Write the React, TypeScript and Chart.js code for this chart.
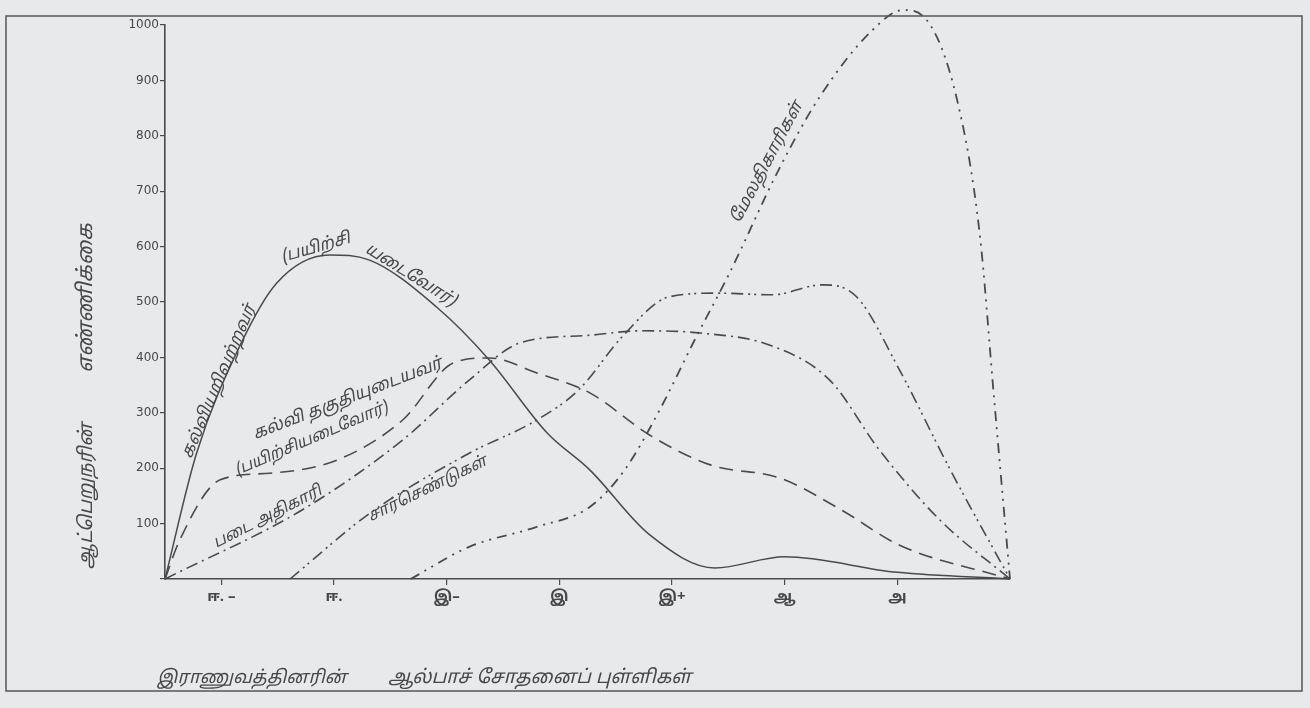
import React, { useEffect, useRef } from "react";
import { Chart, registerables } from "chart.js";

Chart.register(...registerables);

// ---- data (x in grade-units: 0 = origin, ticks at 0.5 … 6.5, end at 7.5) ----
const GRADE_LABELS = ["ஈ. –", "ஈ.", "இ–", "இ", "இ+", "ஆ", "அ"];
const GRADE_POS = [0.5, 1.5, 2.5, 3.5, 4.5, 5.5, 6.5];
const Y_TICKS = [0, 100, 200, 300, 400, 500, 600, 700, 800, 900, 1000];

const SERIES_NAMES = [
  "கல்வியறிவற்றவர் (பயிற்சியடைவோர்)",
  "கல்வி தகுதியுடையவர் (பயிற்சியடைவோர்)",
  "படை அதிகாரி",
  "சார்செண்டுகள்",
  "மேலதிகாரிகள்",
];

const ILLITERATE_X = [0, 0.28, 0.66, 0.99, 1.46, 1.81, 2.41, 2.88, 3.39, 3.77, 4.3, 4.88, 5.5, 6.5, 7.5];
const ILLITERATE_Y = [0, 227, 419, 534, 585, 576, 491, 395, 264, 197, 80, 20, 40, 12, 0];

const LITERATE_X = [0, 0.13, 0.49, 0.93, 1.53, 2.11, 2.56, 2.88, 3.3, 3.77, 4.3, 4.84, 5.46, 6.0, 6.52, 7.5];
const LITERATE_Y = [0, 70, 179, 191, 215, 287, 390, 399, 372, 336, 260, 206, 182, 125, 61, 0];

const SOLDIER_X = [0, 1.22, 2.11, 2.7, 3.15, 3.77, 4.21, 4.75, 5.37, 5.9, 6.34, 6.88, 7.5];
const SOLDIER_Y = [0, 125, 251, 359, 426, 440, 448, 444, 422, 359, 233, 106, 0];

const SERGEANT_X = [1.11, 1.82, 2.7, 3.3, 3.67, 4.07, 4.47, 4.92, 5.39, 5.83, 6.14, 6.52, 6.97, 7.5];
const SERGEANT_Y = [0, 119, 227, 287, 341, 440, 509, 516, 513, 531, 509, 377, 197, 0];

const OFFICER_X = [2.18, 2.7, 3.3, 3.77, 4.08, 4.39, 4.7, 5.01, 5.46, 5.81, 6.28, 6.55, 6.76, 7.03, 7.23, 7.36, 7.5];
const OFFICER_Y = [0, 58, 94, 130, 197, 305, 431, 552, 744, 870, 991, 1027, 1009, 865, 625, 323, 0];

const LINE_COLOR = "#4a4a4a";
const TEXT_COLOR = "#474747";
const TAMIL_FONT = "'Noto Sans Tamil', 'Noto Sans', 'Lato', sans-serif";

const zip = (xs: number[], ys: number[]) => xs.map((x, i) => ({ x, y: ys[i] }));

function drawRot(
  ctx: CanvasRenderingContext2D,
  text: string,
  cx: number,
  cy: number,
  deg: number,
  size: number
) {
  ctx.save();
  ctx.translate(cx, cy);
  ctx.rotate((deg * Math.PI) / 180);
  ctx.font = `italic ${size}px ${TAMIL_FONT}`;
  ctx.fillStyle = TEXT_COLOR;
  ctx.textAlign = "center";
  ctx.textBaseline = "middle";
  ctx.fillText(text, 0, 0);
  ctx.restore();
}

const annotations = {
  id: "annotations",
  afterDraw(chart: any) {
    const ctx: CanvasRenderingContext2D = chart.ctx;
    // frame
    ctx.save();
    ctx.strokeStyle = "#555";
    ctx.lineWidth = 1.5;
    ctx.strokeRect(6, 16, 1296, 675);
    ctx.restore();

    // curve labels
    drawRot(ctx, "கல்வியறிவற்றவர்", 220, 382, -67, 17);
    drawRot(ctx, "(பயிற்சி", 316, 249, -16, 17);
    drawRot(ctx, "யடைவோர்)", 410, 276, 32, 17);
    drawRot(ctx, "கல்வி தகுதியுடையவர்", 348, 400, -21, 17);
    drawRot(ctx, "(பயிற்சியடைவோர்)", 312, 440, -23, 16);
    drawRot(ctx, "படை அதிகாரி", 268, 518, -27, 16);
    drawRot(ctx, "சார்செண்டுகள்", 428, 490, -26, 16);
    drawRot(ctx, "மேலதிகாரிகள்", 768, 163, -62, 17);

    // axis titles
    drawRot(ctx, "இராணுவத்தினரின்", 252, 679, 0, 18);
    drawRot(ctx, "ஆல்பாச் சோதனைப் புள்ளிகள்", 540, 679, 0, 19);
    drawRot(ctx, "ஆட்பெறுநரின்", 88, 496, -90, 19);
    drawRot(ctx, "எண்ணிக்கை", 88, 298, -90, 21);
  },
};

export default function App() {
  const ref = useRef<HTMLCanvasElement | null>(null);

  useEffect(() => {
    if (!ref.current) return;
    const common = {
      borderColor: LINE_COLOR,
      borderWidth: 1.6,
      pointRadius: 0,
      fill: false,
      cubicInterpolationMode: "monotone" as const,
      clip: false as const,
    };
    const chart = new Chart(ref.current, {
      type: "line",
      data: {
        datasets: [
          { ...common, label: SERIES_NAMES[0], data: zip(ILLITERATE_X, ILLITERATE_Y), borderWidth: 1.5 },
          { ...common, label: SERIES_NAMES[1], data: zip(LITERATE_X, LITERATE_Y), borderDash: [14, 8] },
          { ...common, label: SERIES_NAMES[2], data: zip(SOLDIER_X, SOLDIER_Y), borderDash: [12, 5, 2, 5] },
          { ...common, label: SERIES_NAMES[3], data: zip(SERGEANT_X, SERGEANT_Y), borderDash: [12, 5, 2, 4, 2, 5] },
          { ...common, label: SERIES_NAMES[4], data: zip(OFFICER_X, OFFICER_Y), borderDash: [10, 6, 2, 6, 2, 6], borderWidth: 1.8 },
        ],
      },
      options: {
        responsive: false,
        animation: false,
        devicePixelRatio: 1,
        layout: { padding: { left: 0, top: 25, right: 300, bottom: 89 } },
        plugins: { legend: { display: false }, tooltip: { enabled: false }, title: { display: false } },
        scales: {
          x: {
            type: "linear",
            min: 0,
            max: 7.5,
            afterFit: (s: any) => {
              s.height = 40;
            },
            afterBuildTicks: (s: any) => {
              s.ticks = GRADE_POS.map((v) => ({ value: v }));
            },
            ticks: {
              autoSkip: false,
              maxRotation: 0,
              padding: 4,
              color: TEXT_COLOR,
              font: { family: TAMIL_FONT, size: 15, weight: "bold" },
              callback: (_v: any, i: number) => GRADE_LABELS[i],
            },
            grid: { drawOnChartArea: false, drawTicks: true, tickLength: 6, color: LINE_COLOR, lineWidth: 1.2 },
            border: { color: LINE_COLOR, width: 1.6 },
          },
          y: {
            type: "linear",
            min: 0,
            max: 1000,
            afterFit: (s: any) => {
              s.width = 165;
            },
            afterBuildTicks: (s: any) => {
              s.ticks = Y_TICKS.map((v) => ({ value: v }));
            },
            ticks: {
              padding: 1,
              color: TEXT_COLOR,
              font: { family: "'DejaVu Sans', sans-serif", size: 12 },
              callback: (v: any) => (v === 0 ? "" : String(v)),
            },
            grid: { drawOnChartArea: false, drawTicks: true, tickLength: 5, color: LINE_COLOR, lineWidth: 1.2 },
            border: { color: LINE_COLOR, width: 1.6 },
          },
        },
      },
      plugins: [annotations],
    });
    return () => chart.destroy();
  }, []);

  return (
    <div
      style={{
        position: "absolute",
        left: 0,
        top: 0,
        width: 1310,
        height: 708,
        background: "#e7e9ea",
      }}
    >
      <canvas ref={ref} width={1310} height={708} style={{ display: "block" }} />
    </div>
  );
}
